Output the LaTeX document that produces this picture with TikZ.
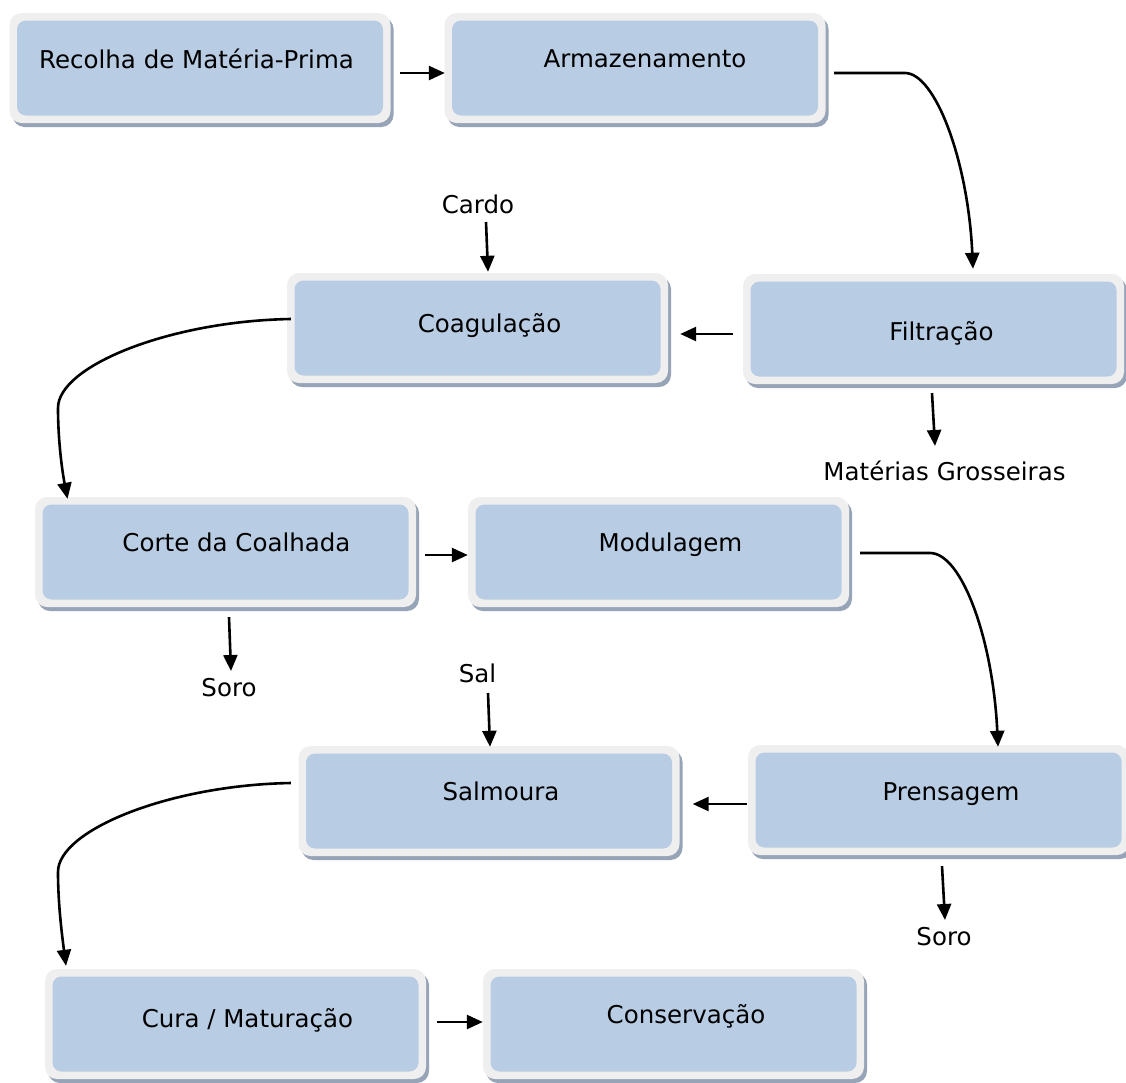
\documentclass[tikz,border=0pt]{standalone}
\usepackage{fontspec}
\setmainfont{DejaVu Sans}
\usetikzlibrary{arrows.meta,calc,shadows}
\definecolor{ringcol}{HTML}{EFEFEF}
\definecolor{boxblue}{HTML}{B8CCE4}
\definecolor{shadowcol}{HTML}{97A3B6}
\tikzset{
  outerbox/.style={fill=ringcol, draw=none, rounded corners=12pt, minimum width=381pt, minimum height=110pt, inner sep=0pt,
    drop shadow={shadow xshift=3pt, shadow yshift=-4pt, fill=shadowcol, opacity=1}},
  innerbox/.style={fill=boxblue, draw=none, rounded corners=9pt, minimum width=366pt, minimum height=95pt, inner sep=0pt},
  txt/.style={anchor=base, inner sep=0pt, font=\fontsize{24.5}{29}\selectfont},
  arr/.style={line width=2.6pt, -{Triangle[length=16pt,width=14pt]}},
}
\newcommand{\procbox}[3]{%
  \node[outerbox] (#1) at (#2) {};
  \node[innerbox] (#1-in) at (#1.center) {};
}
\begin{document}
\begin{tikzpicture}[x=1pt,y=-1pt]
\useasboundingbox (0,0) rectangle (1126,1082);

\procbox{rec}{200,68}{}
\procbox{arm}{635,68}{}
\procbox{coag}{477.5,328}{}
\procbox{fil}{933.5,329}{}
\procbox{corte}{225.5,552}{}
\procbox{modul}{658.5,552}{}
\procbox{salm}{489,801}{}
\procbox{prens}{938.5,800}{}
\procbox{cura}{235.5,1024}{}
\procbox{cons}{673.5,1024}{}

\node[txt] (rec-t) at (196.5,68) {Recolha de Matéria-Prima};
\node[txt] (arm-t) at (645,67) {Armazenamento};
\node[txt] (coag-t) at (489.5,332) {Coagulação};
\node[txt] (fil-t) at (941.5,340) {Filtração};
\node[txt] (corte-t) at (236.5,551) {Corte da Coalhada};
\node[txt] (modul-t) at (670.5,551) {Modulagem};
\node[txt] (salm-t) at (501,800) {Salmoura};
\node[txt] (prens-t) at (951,800) {Prensagem};
\node[txt] (cura-t) at (247.5,1027) {Cura / Maturação};
\node[txt] (cons-t) at (686,1023) {Conservação};

\node[txt] (cardo) at (478,213) {Cardo};
\node[txt] (mat) at (944.5,480) {Matérias Grosseiras};
\node[txt] (soro1) at (229,696) {Soro};
\node[txt] (sal) at (477.5,682) {Sal};
\node[txt] (soro2) at (944,945) {Soro};

\coordinate (k1) at (905,73);
\coordinate (k2) at (58,408);
\coordinate (k3) at (930,553);
\coordinate (k4) at (58,872);

% connectors
\draw[arr] ($(rec.east)+(9.5,5)$) -- ($(arm.west)+(0.5,5)$);
\draw[arr] ($(arm.east)+(8.5,5)$) -- (k1) .. controls (935,73) and (968,160) .. ($(fil.north)+(39.5,-5)$);
\draw[arr] ($(cardo.base)+(8,9)$) -- ($(coag.north)+(10.5,-1)$);
\draw[arr] ($(fil.west)+(-10,5)$) -- ($(coag.east)+(12,6)$);
\draw[arr] ($(fil.south)+(-1.5,9)$) -- ($(mat.base)+(-9.5,-34)$);
\draw[arr] ($(coag.west)+(4,-9)$) .. controls (170,321) and (58,366) .. (k2) .. controls (58,440) and (62,470) .. ($(corte.north)+(-158,2)$);
\draw[arr] ($(corte.east)+(9,3)$) -- ($(modul.west)+(0,3)$);
\draw[arr] ($(corte.south)+(3.5,10)$) -- ($(soro1.base)+(2,-25)$);
\draw[arr] ($(modul.east)+(11,1)$) -- (k3) .. controls (962,553) and (993,640) .. ($(prens.north)+(59.5,2)$);
\draw[arr] ($(sal.base)+(10.5,11)$) -- ($(salm.north)+(1,1)$);
\draw[arr] ($(prens.west)+(-1,4)$) -- ($(salm.east)+(13,3)$);
\draw[arr] ($(prens.south)+(3.5,11)$) -- ($(soro2.base)+(1,-25)$);
\draw[arr] ($(salm.west)+(-7.5,-18)$) .. controls (170,785) and (58,830) .. (k4) .. controls (58,904) and (62,935) .. ($(cura.north)+(-169.5,-3)$);
\draw[arr] ($(cura.east)+(11,-2)$) -- ($(cons.west)+(0,-2)$);
\end{tikzpicture}
\end{document}
